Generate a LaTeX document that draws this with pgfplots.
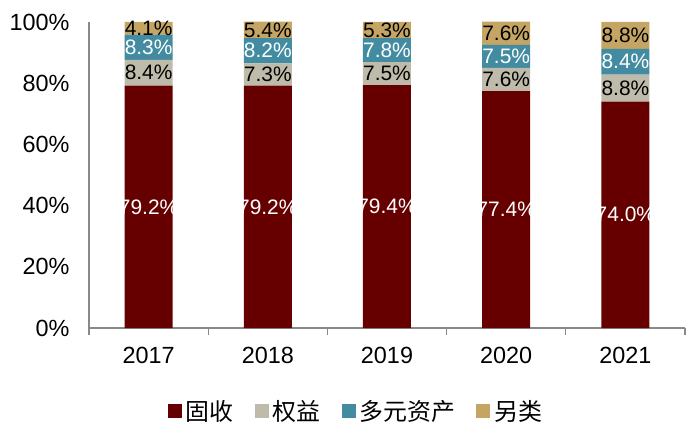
\documentclass[border=0pt]{standalone}
\usepackage{pgfplots}
\pgfplotsset{compat=1.18}
\usepackage{pgfplotstable}
\usepackage{fontspec}
\setmainfont{Liberation Sans}
\newfontfamily\cjk{Noto Sans CJK SC}

\definecolor{guRed}{RGB}{102,0,0}
\definecolor{quanGray}{RGB}{190,187,170}
\definecolor{duoTeal}{RGB}{66,139,160}
\definecolor{lingTan}{RGB}{196,165,100}
\definecolor{axGray}{RGB}{137,137,137}

% shares by year: fixed income, equity, multi-asset, alternatives
\pgfplotstableread{
x gu quan duo ling
0 79.2 8.4 8.3 4.1
1 79.2 7.3 8.2 5.4
2 79.4 7.5 7.8 5.3
3 77.4 7.6 7.5 7.6
4 74.0 8.8 8.4 8.8
}\shares

\begin{document}
\begin{tikzpicture}
\useasboundingbox (-89bp,-111bp) rectangle (611bp,328bp);
\begin{axis}[
  scale only axis,
  width=596bp, height=306bp,
  ybar stacked, bar width=48bp,
  xmin=-0.5, xmax=4.5, ymin=0, ymax=100,
  clip=false,
  axis x line*=bottom, axis y line*=left,
  axis line style={draw=axGray, line width=1.2bp},
  xtick={0,...,4}, xticklabels={2017,2018,2019,2020,2021},
  minor xtick={-0.5,0.5,...,4.5},
  ytick={0,20,...,100},
  yticklabel={\pgfmathprintnumber{\tick}\%},
  major tick length=0pt, minor tick length=7bp,
  tick align=outside,
  minor tick style={draw=axGray, line width=1.2bp},
  /pgf/number format/assume math mode=true,
  tick label style={font=\fontsize{23.5}{24}\selectfont, text=black},
  xticklabel style={yshift=-16bp},
  yticklabel style={xshift=-16bp},
  point meta=rawy,
  nodes near coords={\pgfmathprintnumber[fixed,fixed zerofill,precision=1]{\pgfplotspointmeta}\%},
  every node near coord/.append style={
    anchor=center, font=\fontsize{21}{21}\selectfont, inner sep=0pt,
  },
  legend style={
    at={(axis cs:1.74,-27.1)}, anchor=center, draw=none,
    font=\fontsize{24}{28}\selectfont, legend columns=-1,
    /tikz/every odd column/.append style={column sep=2bp},
    /tikz/every even column/.append style={column sep=19bp},
  },
  legend image code/.code={\fill[#1] (0bp,-7bp) rectangle (14bp,7bp);},
]
\addplot[fill=guRed, draw=none, every node near coord/.append style={text=white}]
  table[x=x, y=gu] {\shares};
\addlegendentry{\cjk 固收}
\addplot[fill=quanGray, draw=none, every node near coord/.append style={text=black}]
  table[x=x, y=quan] {\shares};
\addlegendentry{\cjk 权益}
\addplot[fill=duoTeal, draw=none, every node near coord/.append style={text=white}]
  table[x=x, y=duo] {\shares};
\addlegendentry{\cjk 多元资产}
\addplot[fill=lingTan, draw=none, every node near coord/.append style={text=black}]
  table[x=x, y=ling] {\shares};
\addlegendentry{\cjk 另类}
\end{axis}
\end{tikzpicture}
\end{document}
